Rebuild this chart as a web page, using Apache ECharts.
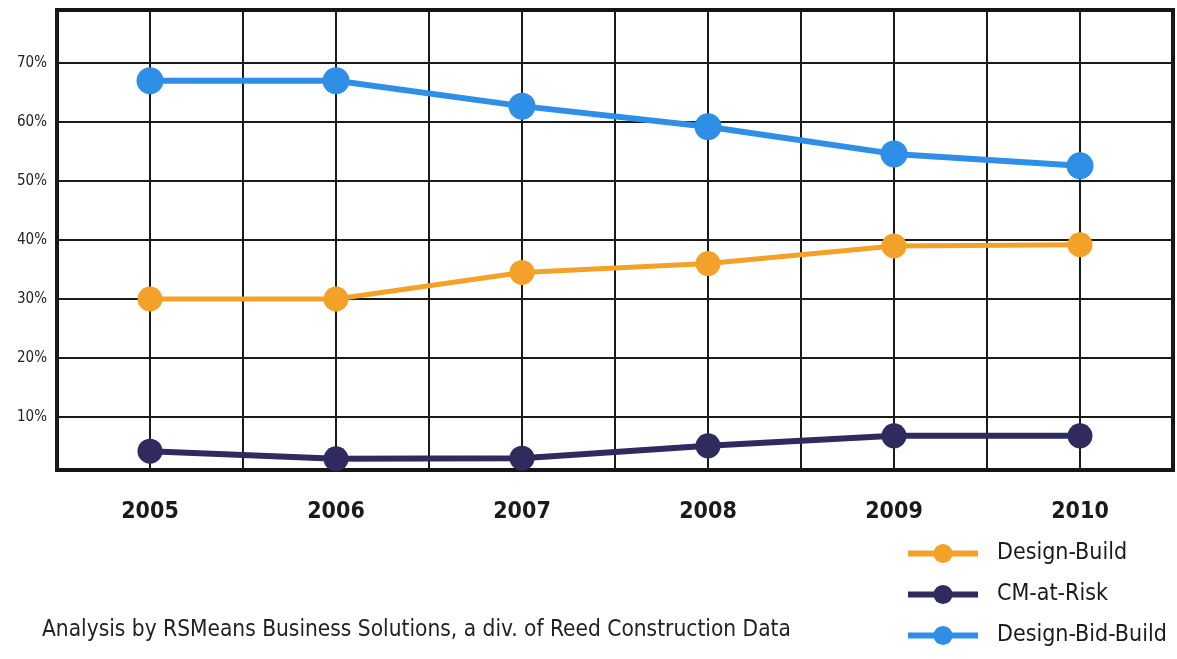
<!DOCTYPE html>
<html>
<head>
<meta charset="utf-8">
<script src="https://cdn.jsdelivr.net/npm/echarts@6/dist/echarts.min.js"></script>
<style>
  html, body { margin: 0; padding: 0; background: #fff; }
  #chart { width: 1177px; height: 659px; }
</style>
</head>
<body>
<div id="chart"></div>
<script>
  // years and shares (%)
  var years = [2005, 2006, 2007, 2008, 2009, 2010];
  var designBuild = [30, 30, 34.5, 36, 39, 39.2];
  var cmAtRisk = [4.2, 2.9, 3.0, 5.1, 6.8, 6.8];
  var designBidBuild = [67, 67, 62.7, 59.2, 54.6, 52.6];
  var yTicks = [10, 20, 30, 40, 50, 60, 70];

  var font = '"Liberation Sans Narrow", "DejaVu Sans Condensed", sans-serif';

  function pairs(vals) {
    return years.map(function (y, i) { return [y, vals[i]]; });
  }

  var chart = echarts.init(document.getElementById('chart'));

  var option = {
    backgroundColor: '#fff',
    animation: false,
    grid: {
      left: 57, right: 4, top: 10, bottom: 189,
      show: true,
      borderColor: '#151515',
      borderWidth: 4
    },
    xAxis: {
      type: 'value',
      min: 2004.5,
      max: 2010.5,
      interval: 0.5,
      axisLine: { show: false },
      axisTick: { show: false },
      splitLine: { show: true, lineStyle: { color: '#1a1a1a', width: 2 } },
      axisLabel: {
        margin: 31,
        fontFamily: font,
        fontSize: 23,
        fontWeight: 'bold',
        color: '#1a1a1a',
        formatter: function (v) { return v % 1 === 0 ? String(v) : ''; }
      }
    },
    yAxis: {
      type: 'value',
      min: 1,
      max: 79,
      axisLine: { show: false },
      axisTick: { show: false, customValues: yTicks },
      splitLine: { show: true, lineStyle: { color: '#1a1a1a', width: 2 } },
      axisLabel: {
        customValues: yTicks,
        margin: 10,
        fontFamily: font,
        fontSize: 15,
        color: '#222',
        formatter: '{value}%'
      }
    },
    legend: {
      orient: 'vertical',
      left: 900,
      top: 537,
      itemWidth: 70,
      itemHeight: 24,
      itemGap: 18,
      lineStyle: { width: 6 },
      data: ['Design-Build', 'CM-at-Risk', 'Design-Bid-Build'],
      textStyle: { fontFamily: font, fontSize: 23, color: '#1a1a1a', padding: [0, 0, 0, 14] }
    },
    graphic: [{
      type: 'text',
      left: 42,
      top: 619,
      style: {
        text: 'Analysis by RSMeans Business Solutions, a div. of Reed Construction Data',
        font: '22.5px ' + font,
        fill: '#222'
      }
    }],
    series: [
      {
        name: 'Design-Build',
        type: 'line',
        data: pairs(designBuild),
        symbol: 'circle',
        symbolSize: 25,
        lineStyle: { width: 5, color: '#f4a12a' },
        itemStyle: { color: '#f4a12a' },
        z: 3
      },
      {
        name: 'CM-at-Risk',
        type: 'line',
        data: pairs(cmAtRisk),
        symbol: 'circle',
        symbolSize: 25,
        lineStyle: { width: 6, color: '#2f2b5e' },
        itemStyle: { color: '#2f2b5e' },
        z: 3
      },
      {
        name: 'Design-Bid-Build',
        type: 'line',
        data: pairs(designBidBuild),
        symbol: 'circle',
        symbolSize: 27,
        lineStyle: { width: 6, color: '#2f8fe6' },
        itemStyle: { color: '#2f8fe6' },
        z: 3
      }
    ]
  };

  chart.setOption(option);
</script>
</body>
</html>
